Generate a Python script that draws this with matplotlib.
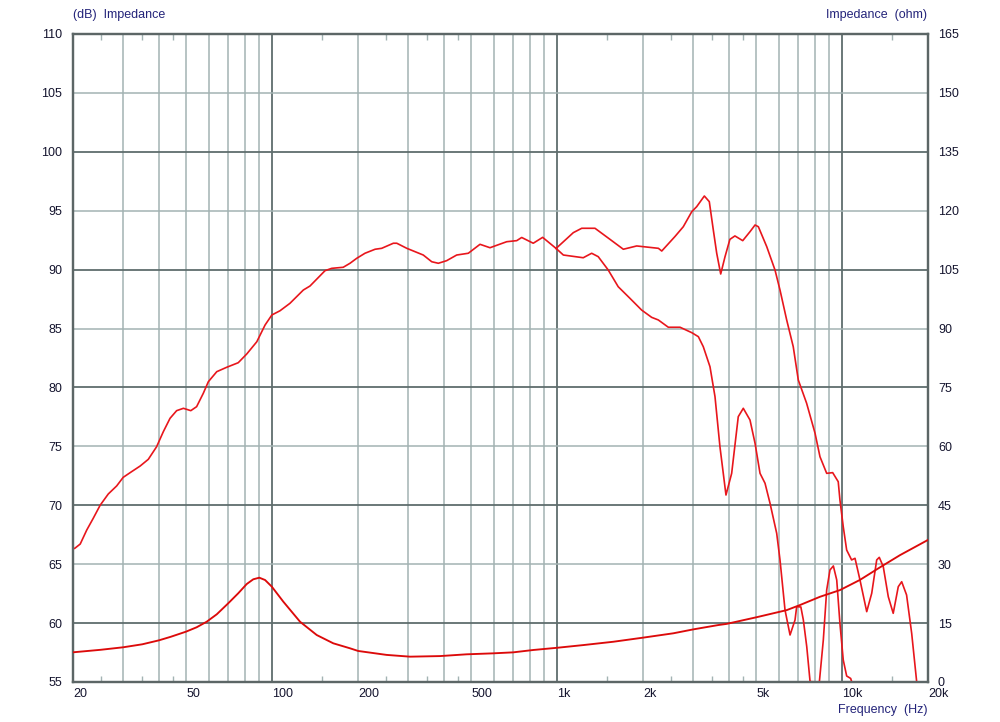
import numpy as np
import matplotlib
matplotlib.use("Agg")
import matplotlib.pyplot as plt

# ---- data ----
# SPL common part (both measurements coincide below ~1 kHz)
spl_common_f = [20, 20.3, 21.2, 22.35, 23.56, 24.9, 26.6, 28.46, 30.0, 32.1, 34.4, 36.75, 39.3,
                41.5, 43.8, 46.2, 48.8, 51.8, 54.3, 57.3, 59.7, 63.9, 69.2, 76.0, 81.4, 88.3,
                94.4, 99.7, 106.5, 115.4, 128.6, 135.7, 153.2, 161.7, 177.5, 187.5, 197.9,
                211.6, 229.6, 242.2, 266.1, 273.6, 296.6, 338.9, 362.9, 382.7, 409.3, 443.9,
                487.6, 535.9, 581, 665, 721, 750.6, 824, 889, 991]
spl_common_db = [66.3, 66.35, 66.71, 67.9, 68.9, 70.0, 70.96, 71.64, 72.37, 72.85, 73.33, 73.9, 74.97,
                 76.25, 77.38, 78.03, 78.23, 78.03, 78.37, 79.5, 80.49, 81.34, 81.71, 82.1, 82.84, 83.88,
                 85.3, 86.15, 86.51, 87.14, 88.27, 88.61, 89.91, 90.11, 90.2, 90.54, 90.96,
                 91.39, 91.73, 91.81, 92.24, 92.24, 91.81, 91.24, 90.67, 90.54, 90.76, 91.24,
                 91.39, 92.15, 91.86, 92.37, 92.46, 92.73, 92.24, 92.74, 91.8]

# SPL on-axis, above 1 kHz
spl_on_f = [1139, 1219, 1357, 1532, 1706, 1901, 2265, 2327, 2589, 2769, 2966, 3085, 3283, 3417,
            3530, 3628, 3747, 3880, 4036, 4203, 4477, 4747, 4945, 5080, 5435, 5810, 6050, 6385,
            6733, 7014, 7501, 8030, 8356, 8822, 9259, 9684, 9818, 10085, 10367, 10790, 11090,
            11544, 12190, 12693, 13214, 13492, 13934, 14510, 15100, 15730, 16170, 16820, 17530,
            18250, 19600]
spl_on_db = [93.14, 93.51, 93.51, 92.57, 91.73, 92.01, 91.81, 91.58, 92.81, 93.64, 94.92, 95.34, 96.25, 95.77,
             93.36, 91.39, 89.63, 91.1, 92.57, 92.86, 92.46, 93.22, 93.79, 93.64, 91.95, 89.97, 88.27, 85.73,
             83.46, 80.63, 78.66, 76.11, 74.12, 72.71, 72.77, 72.0, 70.45, 68.18, 66.2, 65.36, 65.5,
             63.66, 60.97, 62.53, 65.36, 65.58, 64.79, 62.24, 60.83, 63.09, 63.51, 62.39, 59.13,
             55.03, 50.0]

# SPL off-axis, above 1 kHz
spl_off_f = [1051, 1234, 1321, 1393, 1510, 1637, 1799, 1978, 2145, 2263, 2454, 2698, 2966, 3128,
             3255, 3436, 3578, 3724, 3910, 4094, 4318, 4497, 4747, 4945, 5148, 5360, 5581, 5890,
             6050, 6300, 6561, 6830, 6922, 7160, 7306, 7509, 7714, 8314, 8585, 8822, 9060, 9310,
             9567, 9818, 10085, 10367, 10710, 10790, 11000]
spl_off_db = [91.24, 91.01, 91.39, 91.1, 89.97, 88.55, 87.57, 86.57, 85.95, 85.73, 85.11, 85.11, 84.65, 84.31,
              83.46, 81.76, 79.22, 74.97, 70.87, 72.71, 77.52, 78.23, 77.24, 75.26, 72.71, 71.87, 70.17, 67.62,
              65.36, 61.11, 58.99, 60.26, 61.39, 61.37, 60.26, 58.0, 55.03, 55.0, 58.57, 62.81, 64.51, 64.85,
              63.66, 59.98, 56.87, 55.51, 55.3, 55.03, 55.0]

# Impedance (ohm)
imp_f = [20, 25, 30, 35, 40, 44, 49.8, 54.3, 58.9, 63.9, 70.1, 76.0, 81.4, 85.8, 90.1, 94.4, 99.7,
         109.4, 125.2, 143.3, 163.8, 187.5, 200.3, 252,
         304.6, 388, 481, 597, 701, 824, 995, 1234, 1574, 2004, 2555, 3003, 3673, 3933, 5012,
         6385, 7111, 8356, 9818, 11544, 13570, 15950, 19790, 20000]
imp_ohm = [7.56, 8.2, 8.84, 9.6, 10.6, 11.5, 12.81, 13.93, 15.35, 17.24, 20.04, 22.59, 24.95, 26.15, 26.56,
           25.97, 24.27, 20.45, 15.35, 11.96, 9.85, 8.58, 7.9, 6.9,
           6.45, 6.6, 7.05, 7.3, 7.55, 8.15, 8.7, 9.4, 10.25, 11.3, 12.4, 13.4, 14.5, 14.8, 16.5,
           18.3, 19.6, 21.7, 23.4, 26.0, 29.2, 32.3, 36.0, 36.2]

x_tick_vals = [20, 50, 100, 200, 500, 1000, 2000, 5000, 10000, 20000]
x_tick_labels = ["20", "50", "100", "200", "500", "1k", "2k", "5k", "10k", "20k"]
db_ticks = list(range(55, 111, 5))
ohm_ticks = list(range(0, 166, 15))

# ---- styling ----
plt.rcParams['font.family'] = ['Liberation Sans', 'DejaVu Sans']
LABEL_C = '#14142e'
TITLE_C = '#24247a'
GRID_LIGHT = '#a3b3b3'
GRID_DARK = '#5f6d6d'
RED = '#e8161c'
FS = 9

fig = plt.figure(figsize=(10, 7.22), dpi=100)
ax = fig.add_axes([0.073, 1 - 682 / 722, 0.855, (682 - 34) / 722])
ax.set_xscale('log')
ax.set_xlim(20, 20000)
ax.set_ylim(55, 110)

# grid lines
for dec in [10, 100, 1000, 10000]:
    for m in range(1, 10):
        f = m * dec
        if 20 < f < 20000:
            ax.axvline(f, color=GRID_DARK if m == 1 else GRID_LIGHT, lw=1.3 if m == 1 else 1.1, zorder=0)
for v in db_ticks[1:-1]:
    ax.axhline(v, color=GRID_DARK if v % 10 == 0 else GRID_LIGHT, lw=1.3 if v % 10 == 0 else 1.1, zorder=0)

ax.plot(spl_common_f, spl_common_db, color=RED, lw=1.2, zorder=3)
ax.plot([spl_common_f[-1]] + spl_on_f, [spl_common_db[-1]] + spl_on_db, color=RED, lw=1.2, zorder=3)
ax.plot([spl_common_f[-1]] + spl_off_f, [spl_common_db[-1]] + spl_off_db, color=RED, lw=1.2, zorder=3)

ax2 = ax.twinx()
ax2.set_ylim(0, 165)
ax2.plot(imp_f, imp_ohm, color='#dc0a0a', lw=1.35, zorder=3)
ax2.set_xlim(20, 20000)

# ticks
ax.set_xticks(x_tick_vals)
ax.set_xticklabels(x_tick_labels)
minor = [m * d for d in [10, 100, 1000, 10000] for m in (1.5, 2.5, 3.5, 4.5) if 20 < m * d < 20000]
ax.set_xticks(minor, minor=True)
ax.xaxis.set_minor_formatter(matplotlib.ticker.NullFormatter())
ax.tick_params(axis='x', which='major', length=0, pad=4.5, labelsize=FS, labelcolor=LABEL_C)
ax.tick_params(axis='x', which='minor', direction='in', length=4, width=1, color=GRID_LIGHT,
               top=True, bottom=True)
for lab in ax.get_xticklabels():
    lab.set_horizontalalignment('left')
ax.set_yticks(db_ticks)
ax.tick_params(axis='y', length=0, pad=7.9, labelsize=FS, labelcolor=LABEL_C)
ax.yaxis.set_minor_locator(matplotlib.ticker.NullLocator())
ax2.set_yticks(ohm_ticks)
ax2.tick_params(axis='y', length=0, pad=7.2, labelsize=FS, labelcolor=LABEL_C)
ax2.yaxis.set_minor_locator(matplotlib.ticker.NullLocator())

for a in (ax, ax2):
    for s in a.spines.values():
        s.set_color('#5c6666')
        s.set_linewidth(1.6)

fig.text(0.073, 1 - 15 / 722, "(dB)  Impedance", ha='left', va='center', fontsize=FS, color=TITLE_C)
fig.text(0.927, 1 - 15 / 722, "Impedance  (ohm)", ha='right', va='center', fontsize=FS, color=TITLE_C)
fig.text(0.927, 1 - 710 / 722, "Frequency  (Hz)", ha='right', va='center', fontsize=FS, color=TITLE_C)

fig.savefig("out.png", dpi=100)
